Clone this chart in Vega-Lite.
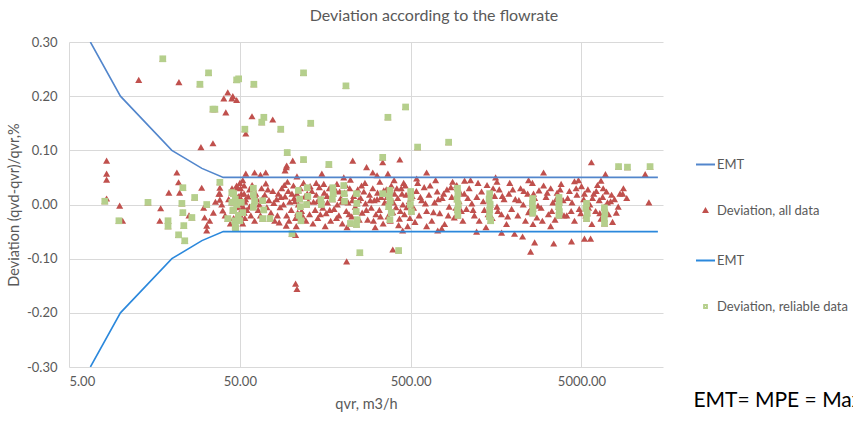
{
  "$schema": "https://vega.github.io/schema/vega-lite/v6.json",
  "width": 594,
  "height": 325,
  "autosize": {"type": "none"},
  "padding": {"left": 69, "top": 42, "right": 190, "bottom": 54},
  "background": "white",
  "config": {
    "font": "Lato",
    "view": {"stroke": null},
    "axis": {"labelFont": "Lato", "titleFont": "Lato", "labelColor": "#595959", "titleColor": "#595959", "labelFontSize": 13, "titleFontSize": 14.5, "titleFontWeight": "normal", "domain": false, "ticks": false, "gridColor": "#d9d9d9", "gridWidth": 1},
    "legend": {"labelFont": "Lato", "labelFontSize": 13, "labelColor": "#595959", "rowPadding": 32, "labelOffset": 1, "symbolStrokeWidth": 2, "symbolOpacity": 1}
  },
  "title": {"text": "Deviation according to the flowrate", "fontSize": 16, "fontWeight": "normal", "color": "#595959", "font": "Lato", "anchor": "middle", "dx": 68, "offset": 12},
  "datasets": {
    "emt": [
      {"q": 6.67, "d": 0.30, "s": "up"}, {"q": 10, "d": 0.20, "s": "up"}, {"q": 20, "d": 0.10, "s": "up"}, {"q": 30, "d": 0.0667, "s": "up"}, {"q": 40, "d": 0.05, "s": "up"}, {"q": 14000, "d": 0.05, "s": "up"},
      {"q": 6.67, "d": -0.30, "s": "lo"}, {"q": 10, "d": -0.20, "s": "lo"}, {"q": 20, "d": -0.10, "s": "lo"}, {"q": 30, "d": -0.0667, "s": "lo"}, {"q": 40, "d": -0.05, "s": "lo"}, {"q": 14000, "d": -0.05, "s": "lo"}
    ],
    "leg": [{"s": "EMT"}, {"s": "Deviation, all data"}, {"s": "EMT "}, {"s": "Deviation, reliable data"}],
    "pts": [
      {"q":8.3,"d":0.081,"r":0},{"q":8.3,"d":0.057,"r":0},{"q":8.3,"d":0.046,"r":0},{"q":8.3,"d":0.011,"r":0},{"q":9.9,"d":-0.002,"r":0},{"q":10.3,"d":-0.03,"r":0},{"q":12.8,"d":0.23,"r":0},{"q":22,"d":0.226,"r":0},{"q":29.6,"d":0.106,"r":0},{"q":34.8,"d":0.113,"r":0},{"q":21.4,"d":0.059,"r":0},{"q":21.9,"d":0.041,"r":0},{"q":22.2,"d":0.022,"r":0},{"q":19.2,"d":0.022,"r":0},{"q":17.2,"d":-0.007,"r":0},{"q":17,"d":-0.03,"r":0},{"q":29.9,"d":0.031,"r":0},{"q":41.4,"d":0.17,"r":0},{"q":40.3,"d":0.196,"r":0},{"q":42.5,"d":0.207,"r":0},{"q":44.9,"d":0.196,"r":0},{"q":47.9,"d":0.193,"r":0},{"q":45.5,"d":0.2,"r":0},{"q":54.2,"d":0.131,"r":0},{"q":54.2,"d":0.057,"r":0},{"q":58.9,"d":0.163,"r":0},{"q":77.9,"d":0.157,"r":0},{"q":70.9,"d":0.059,"r":0},{"q":102,"d":0.081,"r":0},{"q":93.5,"d":0.069,"r":0},{"q":47.9,"d":0.031,"r":0},{"q":37.7,"d":0.02,"r":0},{"q":106,"d":-0.146,"r":0},{"q":108,"d":-0.156,"r":0},{"q":106,"d":-0.056,"r":0},{"q":93.5,"d":-0.039,"r":0},{"q":211,"d":-0.105,"r":0},{"q":393,"d":-0.083,"r":0},{"q":449,"d":-0.048,"r":0},{"q":720,"d":-0.048,"r":0},{"q":1216,"d":-0.05,"r":0},{"q":1703,"d":-0.052,"r":0},{"q":2028,"d":-0.054,"r":0},{"q":2260,"d":-0.059,"r":0},{"q":2518,"d":-0.087,"r":0},{"q":2658,"d":-0.07,"r":0},{"q":3439,"d":-0.072,"r":0},{"q":4370,"d":-0.068,"r":0},{"q":5206,"d":-0.063,"r":0},{"q":5651,"d":-0.063,"r":0},
      {"q":229,"d":0.081,"r":0},{"q":276,"d":0.069,"r":0},{"q":432,"d":0.083,"r":0},{"q":343,"d":0.078,"r":0},{"q":151,"d":0.057,"r":0},{"q":203,"d":0.05,"r":0},{"q":300,"d":0.059,"r":0},{"q":542,"d":0.048,"r":0},{"q":620,"d":0.059,"r":0},{"q":1571,"d":0.05,"r":0},{"q":2998,"d":0.059,"r":0},{"q":4550,"d":0.043,"r":0},{"q":5713,"d":0.078,"r":0},{"q":6905,"d":0.056,"r":0},{"q":11800,"d":0.056,"r":0},{"q":12400,"d":0.004,"r":0},{"q":1034,"d":0.044,"r":0},{"q":318,"d":0.054,"r":0},{"q":368,"d":0.057,"r":0},{"q":61,"d":0.059,"r":0},{"q":66,"d":0.055,"r":0},{"q":92,"d":0.063,"r":0},{"q":94,"d":0.072,"r":0},{"q":108,"d":0.052,"r":0},{"q":222,"d":0.046,"r":0},{"q":71,"d":0.039,"r":0},{"q":8710,"d":0.02,"r":0},
      {"q":30.7,"d":-0.006,"r":0},{"q":31.1,"d":-0.024,"r":0},{"q":32,"d":-0.039,"r":0},{"q":32,"d":-0.048,"r":0},{"q":33.3,"d":-0.03,"r":0},{"q":35,"d":-0.015,"r":0},{"q":39.7,"d":-0.011,"r":0},{"q":38.2,"d":0.031,"r":0},{"q":38.2,"d":0.02,"r":0},{"q":38.2,"d":0.009,"r":0},{"q":39.2,"d":0.0,"r":0},{"q":47.9,"d":0.035,"r":0},{"q":25.2,"d":-0.02,"r":0},{"q":36,"d":0.005,"r":0},{"q":41,"d":-0.02,"r":0},{"q":43,"d":0.01,"r":0},{"q":44,"d":-0.035,"r":0},
      {"q":50,"d":0.04,"r":0},{"q":50.5,"d":0.03,"r":0},{"q":51,"d":0.02,"r":0},{"q":51,"d":0.01,"r":0},{"q":50,"d":0,"r":0},{"q":51,"d":-0.01,"r":0},{"q":50.5,"d":-0.02,"r":0},{"q":51,"d":-0.03,"r":0},{"q":52,"d":0.045,"r":0},{"q":53,"d":0.035,"r":0},{"q":53,"d":0.02,"r":0},{"q":53.5,"d":0.005,"r":0},{"q":52.5,"d":-0.005,"r":0},{"q":53,"d":-0.015,"r":0},{"q":53.5,"d":-0.025,"r":0},{"q":52,"d":-0.035,"r":0},{"q":54,"d":0.01,"r":0},{"q":55,"d":-0.01,"r":0},{"q":49,"d":0.015,"r":0},{"q":48.5,"d":-0.005,"r":0},
      {"q":62,"d":0.02,"r":0},{"q":63,"d":0.01,"r":0},{"q":64,"d":-0.01,"r":0},{"q":65,"d":0.0,"r":0},{"q":66,"d":-0.02,"r":0},{"q":67,"d":0.03,"r":0},{"q":70,"d":0.018,"r":0},{"q":72,"d":-0.005,"r":0},{"q":74,"d":0.008,"r":0},{"q":76,"d":-0.015,"r":0},{"q":78,"d":0.025,"r":0},{"q":80,"d":-0.03,"r":0},{"q":58,"d":-0.02,"r":0},{"q":57,"d":0.028,"r":0},
      {"q":82,"d":0.01,"r":0},{"q":84,"d":0.02,"r":0},{"q":86,"d":-0.005,"r":0},{"q":88,"d":0.03,"r":0},{"q":90,"d":0.0,"r":0},{"q":92,"d":0.015,"r":0},{"q":94,"d":-0.02,"r":0},{"q":96,"d":0.025,"r":0},{"q":98,"d":0.005,"r":0},{"q":100,"d":-0.01,"r":0},{"q":103,"d":0.035,"r":0},{"q":104,"d":0.012,"r":0},{"q":106,"d":-0.025,"r":0},{"q":108,"d":0.02,"r":0},{"q":110,"d":0.0,"r":0},{"q":115,"d":-0.012,"r":0},{"q":118,"d":0.04,"r":0},{"q":120,"d":0.015,"r":0},{"q":122,"d":-0.03,"r":0},{"q":126,"d":0.006,"r":0},{"q":128,"d":-0.018,"r":0},{"q":85,"d":-0.033,"r":0},{"q":95,"d":0.042,"r":0},{"q":107,"d":-0.04,"r":0},
      {"q":132,"d":0.025,"r":0},{"q":135,"d":0.005,"r":0},{"q":138,"d":-0.01,"r":0},{"q":140,"d":0.018,"r":0},{"q":143,"d":-0.025,"r":0},{"q":146,"d":0.032,"r":0},{"q":150,"d":0.01,"r":0},{"q":153,"d":-0.006,"r":0},{"q":156,"d":0.022,"r":0},{"q":160,"d":-0.016,"r":0},{"q":163,"d":0.004,"r":0},{"q":167,"d":0.03,"r":0},{"q":170,"d":-0.03,"r":0},{"q":173,"d":0.015,"r":0},{"q":178,"d":-0.008,"r":0},{"q":182,"d":0.026,"r":0},{"q":186,"d":0.0,"r":0},{"q":190,"d":-0.02,"r":0},{"q":195,"d":0.012,"r":0},{"q":199,"d":-0.035,"r":0},{"q":205,"d":0.022,"r":0},{"q":210,"d":-0.012,"r":0},{"q":215,"d":0.004,"r":0},{"q":220,"d":0.03,"r":0},{"q":226,"d":-0.022,"r":0},{"q":232,"d":0.016,"r":0},{"q":237,"d":-0.004,"r":0},{"q":245,"d":0.028,"r":0},{"q":250,"d":-0.028,"r":0},{"q":140,"d":0.04,"r":0},{"q":185,"d":0.038,"r":0},{"q":158,"d":-0.04,"r":0},{"q":212,"d":-0.042,"r":0},{"q":248,"d":0.008,"r":0},
      {"q":255,"d":0.012,"r":0},{"q":260,"d":-0.015,"r":0},{"q":266,"d":0.024,"r":0},{"q":272,"d":0.002,"r":0},{"q":280,"d":-0.028,"r":0},{"q":287,"d":0.018,"r":0},{"q":294,"d":-0.006,"r":0},{"q":300,"d":0.03,"r":0},{"q":306,"d":0.008,"r":0},{"q":313,"d":-0.018,"r":0},{"q":320,"d":0.022,"r":0},{"q":328,"d":-0.01,"r":0},{"q":336,"d":0.014,"r":0},{"q":345,"d":-0.035,"r":0},{"q":352,"d":0.004,"r":0},{"q":360,"d":0.028,"r":0},{"q":368,"d":-0.022,"r":0},{"q":376,"d":0.01,"r":0},{"q":385,"d":0.035,"r":0},{"q":393,"d":-0.014,"r":0},{"q":402,"d":0.02,"r":0},{"q":410,"d":-0.005,"r":0},{"q":420,"d":0.012,"r":0},{"q":430,"d":-0.026,"r":0},{"q":440,"d":0.03,"r":0},{"q":450,"d":0.0,"r":0},{"q":460,"d":-0.018,"r":0},{"q":470,"d":0.018,"r":0},{"q":480,"d":-0.04,"r":0},{"q":490,"d":0.006,"r":0},{"q":270,"d":0.04,"r":0},{"q":330,"d":0.042,"r":0},{"q":400,"d":0.045,"r":0},{"q":310,"d":-0.042,"r":0},{"q":455,"d":0.04,"r":0},{"q":425,"d":-0.038,"r":0},
      {"q":510,"d":0.016,"r":0},{"q":520,"d":-0.006,"r":0},{"q":540,"d":0.025,"r":0},{"q":560,"d":-0.02,"r":0},{"q":580,"d":0.008,"r":0},{"q":600,"d":0.032,"r":0},{"q":620,"d":-0.012,"r":0},{"q":640,"d":0.018,"r":0},{"q":665,"d":-0.03,"r":0},{"q":690,"d":0.004,"r":0},{"q":715,"d":0.024,"r":0},{"q":740,"d":-0.016,"r":0},{"q":765,"d":0.012,"r":0},{"q":790,"d":-0.036,"r":0},{"q":815,"d":0.028,"r":0},{"q":840,"d":-0.004,"r":0},{"q":870,"d":0.014,"r":0},{"q":900,"d":-0.024,"r":0},{"q":930,"d":0.036,"r":0},{"q":960,"d":0.006,"r":0},{"q":990,"d":-0.012,"r":0},{"q":550,"d":0.04,"r":0},{"q":700,"d":0.045,"r":0},{"q":880,"d":0.042,"r":0},{"q":620,"d":-0.04,"r":0},{"q":760,"d":-0.044,"r":0},
      {"q":1030,"d":0.02,"r":0},{"q":1060,"d":-0.008,"r":0},{"q":1100,"d":0.03,"r":0},{"q":1140,"d":0.002,"r":0},{"q":1180,"d":-0.02,"r":0},{"q":1220,"d":0.014,"r":0},{"q":1260,"d":-0.03,"r":0},{"q":1300,"d":0.024,"r":0},{"q":1350,"d":-0.01,"r":0},{"q":1400,"d":0.036,"r":0},{"q":1450,"d":0.008,"r":0},{"q":1500,"d":-0.025,"r":0},{"q":1550,"d":0.016,"r":0},{"q":1600,"d":-0.004,"r":0},{"q":1650,"d":0.028,"r":0},{"q":1700,"d":-0.018,"r":0},{"q":1760,"d":0.01,"r":0},{"q":1820,"d":-0.036,"r":0},{"q":1880,"d":0.02,"r":0},{"q":1950,"d":-0.008,"r":0},{"q":1120,"d":0.045,"r":0},{"q":1380,"d":-0.042,"r":0},{"q":1600,"d":0.042,"r":0},{"q":1900,"d":0.04,"r":0},
      {"q":2050,"d":0.01,"r":0},{"q":2120,"d":-0.02,"r":0},{"q":2200,"d":0.03,"r":0},{"q":2280,"d":0.0,"r":0},{"q":2350,"d":-0.03,"r":0},{"q":2420,"d":0.02,"r":0},{"q":2500,"d":-0.01,"r":0},{"q":2580,"d":0.04,"r":0},{"q":2660,"d":0.012,"r":0},{"q":2740,"d":-0.024,"r":0},{"q":2820,"d":0.026,"r":0},{"q":2900,"d":-0.006,"r":0},{"q":3000,"d":0.035,"r":0},{"q":3100,"d":0.014,"r":0},{"q":3200,"d":-0.018,"r":0},{"q":3300,"d":0.03,"r":0},{"q":3400,"d":0.004,"r":0},{"q":3500,"d":-0.028,"r":0},{"q":3600,"d":0.022,"r":0},{"q":3700,"d":-0.01,"r":0},{"q":3800,"d":0.038,"r":0},{"q":3900,"d":0.008,"r":0},{"q":2600,"d":-0.036,"r":0},{"q":3300,"d":-0.04,"r":0},{"q":2450,"d":0.045,"r":0},
      {"q":4100,"d":-0.02,"r":0},{"q":4250,"d":0.025,"r":0},{"q":4400,"d":0.004,"r":0},{"q":4550,"d":-0.03,"r":0},{"q":4700,"d":0.018,"r":0},{"q":4850,"d":-0.008,"r":0},{"q":5000,"d":0.034,"r":0},{"q":5150,"d":0.01,"r":0},{"q":5300,"d":-0.02,"r":0},{"q":5450,"d":0.028,"r":0},{"q":5600,"d":0.0,"r":0},{"q":5750,"d":-0.036,"r":0},{"q":5900,"d":0.02,"r":0},{"q":6050,"d":-0.012,"r":0},{"q":6200,"d":0.036,"r":0},{"q":6350,"d":0.008,"r":0},{"q":6500,"d":-0.026,"r":0},{"q":6650,"d":0.014,"r":0},{"q":6800,"d":-0.004,"r":0},{"q":7000,"d":0.024,"r":0},{"q":7200,"d":-0.018,"r":0},{"q":7400,"d":0.006,"r":0},{"q":4800,"d":0.045,"r":0},{"q":6500,"d":0.044,"r":0},{"q":7800,"d":0.01,"r":0},{"q":8000,"d":-0.015,"r":0},{"q":8400,"d":0.02,"r":0},{"q":7600,"d":-0.032,"r":0},
      {"q":45,"d":0.03,"r":0},{"q":46,"d":-0.025,"r":0},{"q":56,"d":0.015,"r":0},{"q":57,"d":-0.004,"r":0},{"q":59,"d":0.036,"r":0},{"q":61,"d":-0.03,"r":0},{"q":68,"d":0.012,"r":0},{"q":73,"d":0.028,"r":0},{"q":79,"d":0.003,"r":0},{"q":83,"d":-0.02,"r":0},{"q":87,"d":0.014,"r":0},{"q":91,"d":0.036,"r":0},{"q":97,"d":-0.03,"r":0},{"q":101,"d":0.02,"r":0},{"q":105,"d":0.006,"r":0},{"q":109,"d":-0.015,"r":0},{"q":113,"d":0.03,"r":0},{"q":117,"d":-0.022,"r":0},{"q":124,"d":0.02,"r":0},{"q":129,"d":0.034,"r":0},
      {"q":134,"d":-0.035,"r":0},{"q":142,"d":0.006,"r":0},{"q":148,"d":-0.018,"r":0},{"q":155,"d":0.038,"r":0},{"q":162,"d":0.016,"r":0},{"q":168,"d":-0.01,"r":0},{"q":176,"d":0.03,"r":0},{"q":184,"d":-0.025,"r":0},{"q":192,"d":0.024,"r":0},{"q":198,"d":0.005,"r":0},{"q":208,"d":0.036,"r":0},{"q":218,"d":-0.018,"r":0},{"q":228,"d":0.008,"r":0},{"q":240,"d":-0.01,"r":0},{"q":258,"d":0.035,"r":0},{"q":275,"d":-0.01,"r":0},{"q":290,"d":0.008,"r":0},{"q":303,"d":-0.03,"r":0},{"q":318,"d":0.01,"r":0},{"q":333,"d":-0.022,"r":0},{"q":348,"d":0.026,"r":0},{"q":364,"d":0.014,"r":0},{"q":380,"d":-0.03,"r":0},{"q":396,"d":0.004,"r":0},{"q":415,"d":0.03,"r":0},{"q":435,"d":-0.012,"r":0},{"q":445,"d":0.02,"r":0},{"q":465,"d":0.035,"r":0},{"q":475,"d":-0.005,"r":0},{"q":495,"d":-0.025,"r":0},
      {"q":530,"d":-0.032,"r":0},{"q":570,"d":0.014,"r":0},{"q":610,"d":0.002,"r":0},{"q":650,"d":0.035,"r":0},{"q":680,"d":-0.014,"r":0},{"q":725,"d":0.01,"r":0},{"q":780,"d":0.02,"r":0},{"q":830,"d":-0.02,"r":0},{"q":860,"d":0.032,"r":0},{"q":920,"d":-0.006,"r":0},{"q":975,"d":0.022,"r":0},{"q":1010,"d":-0.03,"r":0},{"q":1080,"d":0.012,"r":0},{"q":1160,"d":-0.01,"r":0},{"q":1240,"d":0.04,"r":0},{"q":1330,"d":0.006,"r":0},{"q":1420,"d":-0.018,"r":0},{"q":1520,"d":0.03,"r":0},{"q":1620,"d":-0.012,"r":0},{"q":1720,"d":0.016,"r":0},{"q":1850,"d":-0.022,"r":0},{"q":1980,"d":0.028,"r":0},
      {"q":2150,"d":0.008,"r":0},{"q":2300,"d":0.025,"r":0},{"q":2450,"d":-0.014,"r":0},{"q":2620,"d":0.02,"r":0},{"q":2780,"d":-0.002,"r":0},{"q":2950,"d":-0.03,"r":0},{"q":3150,"d":0.022,"r":0},{"q":3350,"d":-0.012,"r":0},{"q":3550,"d":0.01,"r":0},{"q":3750,"d":0.028,"r":0},{"q":3950,"d":-0.02,"r":0},{"q":4150,"d":0.012,"r":0},{"q":4350,"d":-0.012,"r":0},{"q":4650,"d":0.03,"r":0},{"q":4950,"d":-0.016,"r":0},{"q":5200,"d":0.02,"r":0},{"q":5500,"d":-0.006,"r":0},{"q":5800,"d":0.012,"r":0},{"q":6100,"d":0.025,"r":0},{"q":6400,"d":-0.016,"r":0},{"q":6700,"d":0.03,"r":0},{"q":7100,"d":0.004,"r":0},{"q":7500,"d":0.018,"r":0},{"q":8200,"d":-0.004,"r":0},{"q":8800,"d":0.03,"r":0},{"q":9200,"d":0.012,"r":0},
      {"q":17.7,"d":0.269,"r":1},{"q":32.8,"d":0.243,"r":1},{"q":29.2,"d":0.222,"r":1},{"q":47.9,"d":0.23,"r":1},{"q":49.2,"d":0.232,"r":1},{"q":60.4,"d":0.222,"r":1},{"q":34.8,"d":0.176,"r":1},{"q":35.7,"d":0.176,"r":1},{"q":53.5,"d":0.139,"r":1},{"q":69.1,"d":0.161,"r":1},{"q":67.2,"d":0.152,"r":1},{"q":86.8,"d":0.139,"r":1},{"q":94.7,"d":0.096,"r":1},{"q":118,"d":0.243,"r":1},{"q":209,"d":0.219,"r":1},{"q":467,"d":0.18,"r":1},{"q":368,"d":0.161,"r":1},{"q":130,"d":0.15,"r":1},{"q":118,"d":0.083,"r":1},{"q":166,"d":0.074,"r":1},{"q":343,"d":0.087,"r":1},{"q":549,"d":0.106,"r":1},{"q":834,"d":0.115,"r":1},{"q":8240,"d":0.07,"r":1},{"q":9290,"d":0.069,"r":1},{"q":12600,"d":0.07,"r":1},{"q":252,"d":-0.089,"r":1},{"q":425,"d":-0.085,"r":1},{"q":101,"d":-0.054,"r":1},{"q":222,"d":-0.035,"r":1},
      {"q":8.1,"d":0.006,"r":1},{"q":9.8,"d":-0.03,"r":1},{"q":14.5,"d":0.004,"r":1},{"q":19,"d":-0.03,"r":1},{"q":19,"d":-0.04,"r":1},{"q":21.9,"d":-0.056,"r":1},{"q":23.8,"d":-0.067,"r":1},{"q":23.5,"d":-0.039,"r":1},{"q":22.9,"d":0.002,"r":1},{"q":23.2,"d":0.031,"r":1},{"q":23.2,"d":-0.015,"r":1},{"q":26.2,"d":-0.024,"r":1},{"q":27.2,"d":0.013,"r":1},{"q":32,"d":0.0,"r":1},{"q":38.2,"d":0.041,"r":1},{"q":44.9,"d":0.022,"r":1},{"q":44.9,"d":0.004,"r":1},{"q":45.5,"d":-0.011,"r":1},{"q":46.7,"d":-0.03,"r":1},{"q":47.3,"d":-0.043,"r":1},{"q":42.5,"d":-0.026,"r":1},
      {"q":46,"d":0.02,"r":1},{"q":47,"d":0.01,"r":1},{"q":48,"d":0,"r":1},{"q":46,"d":-0.01,"r":1},{"q":49,"d":-0.02,"r":1},{"q":50,"d":-0.03,"r":1},{"q":47,"d":-0.04,"r":1},{"q":51,"d":0.004,"r":1},{"q":52,"d":-0.015,"r":1},
      {"q":60,"d":0.03,"r":1},{"q":60,"d":0.018,"r":1},{"q":61,"d":0.006,"r":1},{"q":60,"d":-0.005,"r":1},{"q":68,"d":0.007,"r":1},{"q":69,"d":-0.01,"r":1},{"q":68,"d":-0.026,"r":1},{"q":75,"d":-0.026,"r":1},
      {"q":110,"d":0.026,"r":1},{"q":112,"d":0.01,"r":1},{"q":113,"d":-0.004,"r":1},{"q":111,"d":-0.02,"r":1},{"q":114,"d":-0.03,"r":1},{"q":124,"d":0.031,"r":1},{"q":125,"d":0.015,"r":1},{"q":123,"d":0,"r":1},{"q":149,"d":0.009,"r":1},{"q":150,"d":0.0,"r":1},{"q":175,"d":0.031,"r":1},{"q":176,"d":0.02,"r":1},{"q":174,"d":0.01,"r":1},{"q":203,"d":0.035,"r":1},{"q":204,"d":0.02,"r":1},{"q":205,"d":0.006,"r":1},
      {"q":241,"d":0.02,"r":1},{"q":242,"d":0.002,"r":1},{"q":240,"d":-0.013,"r":1},{"q":243,"d":-0.028,"r":1},{"q":241,"d":-0.037,"r":1},{"q":378,"d":0.026,"r":1},{"q":375,"d":0.015,"r":1},{"q":380,"d":0.006,"r":1},{"q":372,"d":-0.004,"r":1},{"q":385,"d":-0.015,"r":1},{"q":378,"d":-0.028,"r":1},{"q":343,"d":0.02,"r":1},{"q":500,"d":0.024,"r":1},{"q":502,"d":0.013,"r":1},{"q":498,"d":0.0,"r":1},{"q":505,"d":-0.013,"r":1},
      {"q":940,"d":0.03,"r":1},{"q":945,"d":0.02,"r":1},{"q":935,"d":0.01,"r":1},{"q":950,"d":0,"r":1},{"q":940,"d":-0.01,"r":1},{"q":945,"d":-0.02,"r":1},{"q":1450,"d":0.02,"r":1},{"q":1440,"d":0.01,"r":1},{"q":1460,"d":0,"r":1},{"q":1450,"d":-0.01,"r":1},{"q":1445,"d":-0.022,"r":1},{"q":1470,"d":-0.03,"r":1},
      {"q":2590,"d":0.011,"r":1},{"q":2580,"d":0.002,"r":1},{"q":2600,"d":-0.008,"r":1},{"q":2590,"d":-0.016,"r":1},{"q":3690,"d":0.013,"r":1},{"q":3700,"d":0.004,"r":1},{"q":3680,"d":-0.004,"r":1},{"q":3710,"d":-0.013,"r":1},{"q":3690,"d":-0.02,"r":1},{"q":5350,"d":0.002,"r":1},{"q":5300,"d":-0.007,"r":1},{"q":5400,"d":-0.016,"r":1},{"q":5350,"d":-0.026,"r":1},{"q":6810,"d":-0.006,"r":1},{"q":6850,"d":-0.016,"r":1},{"q":6800,"d":-0.026,"r":1},{"q":6820,"d":-0.035,"r":1}
    ],
    "note": [{"t": "EMT= MPE = Maximum Permissible Error"}]
  },
  "layer": [
    {"mark": {"type": "rule", "color": "#bfbfbf", "strokeWidth": 1.5},
      "encoding": {"y": {"datum": 0, "type": "quantitative", "scale": {"domain": [-0.3, 0.3], "nice": false},
          "axis": {"title": "Deviation  (qvd-qvr)/qvr,%", "values": [-0.3, -0.2, -0.1, 0, 0.1, 0.2, 0.3], "labelExpr": "replace(format(datum.value, '.2f'), '\u2212', '-')", "labelPadding": 12, "titlePadding": 5, "grid": true}}}},
    {"data": {"name": "pts"}, "mark": {"type": "point", "filled": true, "opacity": 1, "clip": true, "shape": "triangle-up", "size": 50, "color": "#c0504d"},
      "encoding": {
        "x": {"field": "q", "type": "quantitative", "scale": {"type": "log", "domain": [5, 15000], "nice": false},
          "axis": {"title": "qvr, m3/h", "values": [5, 50, 500, 5000], "format": ".2f", "labelPadding": 8, "titlePadding": 9, "grid": true}},
        "y": {"field": "d", "type": "quantitative"}
      }},
    {"data": {"name": "pts"}, "transform": [{"filter": "datum.r == 1"}], "mark": {"type": "point", "filled": true, "opacity": 1, "clip": true, "shape": "square", "size": 45, "color": "#b5cf8c"},
      "encoding": {
        "x": {"field": "q", "type": "quantitative"},
        "y": {"field": "d", "type": "quantitative"}
      }},
    {"data": {"name": "emt"}, "transform": [{"filter": "datum.s == 'up'"}], "mark": {"type": "line", "strokeWidth": 1.6, "clip": true, "color": "#5286cc"},
      "encoding": {
        "x": {"field": "q", "type": "quantitative"},
        "y": {"field": "d", "type": "quantitative"}
      }},
    {"data": {"name": "emt"}, "transform": [{"filter": "datum.s == 'lo'"}], "mark": {"type": "line", "strokeWidth": 1.6, "clip": true, "color": "#2b88dc"},
      "encoding": {
        "x": {"field": "q", "type": "quantitative"},
        "y": {"field": "d", "type": "quantitative"}
      }},
    {"data": {"name": "leg"}, "mark": {"type": "point", "filled": false, "clip": true, "strokeWidth": 2},
      "encoding": {
        "x": {"datum": 1, "type": "quantitative"},
        "y": {"datum": 0, "type": "quantitative"},
        "color": {"field": "s", "type": "nominal",
          "scale": {"domain": ["EMT", "Deviation, all data", "EMT ", "Deviation, reliable data"], "range": ["#5286cc", "#c0504d", "#2b88dc", "#b5cf8c"]},
          "legend": {"title": null, "orient": "none", "legendX": 626, "legendY": 112,
            "encode": {"symbols": {"update": {"stroke": {"scale": "color", "field": "value"}, "fill": {"scale": "color", "field": "value"}, "strokeWidth": {"value": 2}}}}}},
        "shape": {"field": "s", "type": "nominal",
          "scale": {"domain": ["EMT", "Deviation, all data", "EMT ", "Deviation, reliable data"], "range": ["stroke", "triangle-up", "stroke", "square"]},
          "legend": {"title": null, "orient": "none", "legendX": 626, "legendY": 112,
            "encode": {"symbols": {"update": {"stroke": {"scale": "color", "field": "value"}, "fill": {"scale": "color", "field": "value"}, "strokeWidth": {"value": 2}}}}}},
        "size": {"field": "s", "type": "nominal",
          "scale": {"type": "ordinal", "domain": ["EMT", "Deviation, all data", "EMT ", "Deviation, reliable data"], "range": [361, 12, 361, 8]},
          "legend": {"title": null, "orient": "none", "legendX": 626, "legendY": 112,
            "encode": {"symbols": {"update": {"stroke": {"scale": "color", "field": "value"}, "fill": {"scale": "color", "field": "value"}, "strokeWidth": {"value": 2}}}}}}
      }},
    {"data": {"name": "note"}, "mark": {"type": "text", "align": "left", "baseline": "middle", "fontSize": 21, "font": "Lato", "color": "#000000", "clip": false},
      "encoding": {"x": {"datum": 22600, "type": "quantitative"}, "y": {"datum": -0.363, "type": "quantitative"}, "text": {"field": "t"}}}
  ]
}
